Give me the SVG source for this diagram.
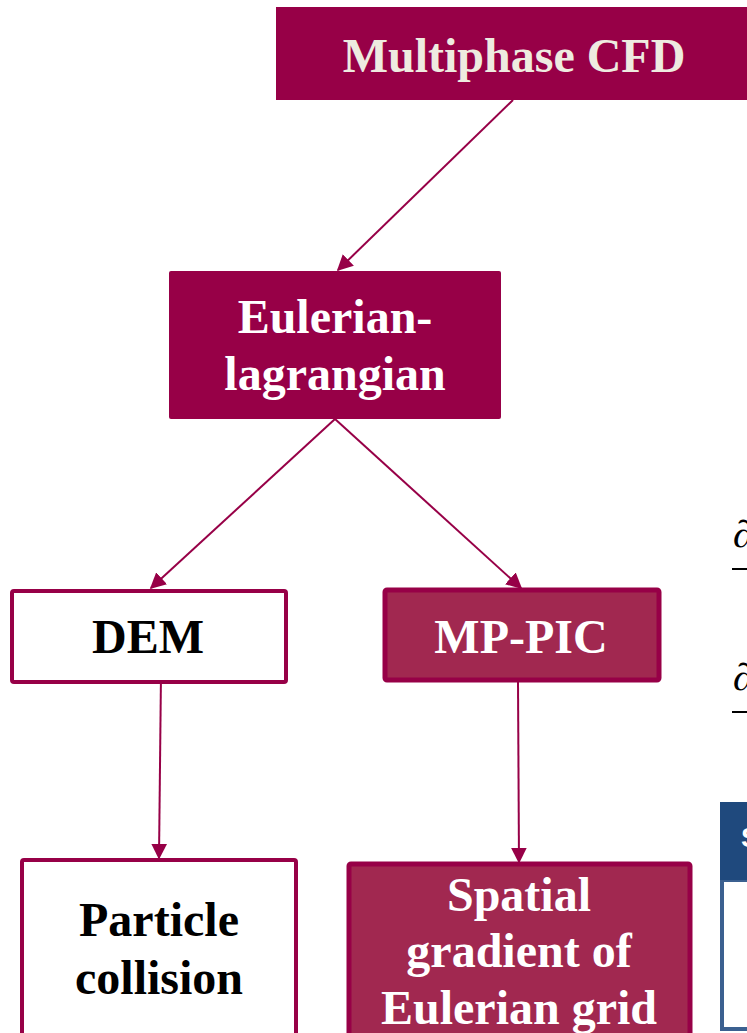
<svg xmlns="http://www.w3.org/2000/svg" width="747" height="1033" viewBox="0 0 747 1033">
<style>
.t{font-family:"Liberation Serif","Times New Roman",serif;font-weight:bold;text-anchor:middle;font-size:48px}
.w{fill:#ffffff}
.k{fill:#000000}
.c{stroke:#970047;stroke-width:2;fill:none}
.m{font-family:"Liberation Serif","Times New Roman",serif;font-style:italic;fill:#000}
</style>
<defs>
<marker id="ah2" viewBox="0 0 10 10" refX="9" refY="5" markerWidth="16" markerHeight="16" markerUnits="userSpaceOnUse" orient="auto">
<path d="M0,0 L10,5 L0,10 z" fill="#970047"/>
</marker>
</defs>
<rect width="747" height="1033" fill="#ffffff"/>
<g id="connectors">
<line class="c" x1="513" y1="100" x2="338" y2="270" marker-end="url(#ah2)"/>
<line class="c" x1="335" y1="419" x2="151" y2="588" marker-end="url(#ah2)"/>
<line class="c" x1="335" y1="419" x2="521" y2="588" marker-end="url(#ah2)"/>
<line class="c" x1="161" y1="673" x2="159" y2="858" marker-end="url(#ah2)"/>
<line class="c" x1="518" y1="682" x2="519" y2="862" marker-end="url(#ah2)"/>
</g>
<g id="multiphase">
<rect x="276" y="7" width="480" height="93" fill="#970047"/>
<text class="t" x="514" y="72" fill="#EEEBE0">Multiphase CFD</text>
</g>
<g id="eulerian">
<rect x="169" y="271" width="332" height="148" rx="2" fill="#970047"/>
<text class="t w" x="335" y="333">Eulerian-</text>
<text class="t w" x="335" y="390">lagrangian</text>
</g>
<g id="dem">
<rect x="12" y="591" width="274" height="91" rx="2" fill="#ffffff" stroke="#970047" stroke-width="4"/>
<text class="t k" x="148" y="653">DEM</text>
</g>
<g id="mppic">
<rect x="385" y="590" width="274" height="90" rx="2" fill="#A12850" stroke="#970047" stroke-width="5"/>
<text class="t w" x="521" y="653">MP-PIC</text>
</g>
<g id="particle">
<rect x="22" y="860" width="274" height="180" rx="2" fill="#ffffff" stroke="#970047" stroke-width="4"/>
<text class="t k" x="159" y="936">Particle</text>
<text class="t k" x="159" y="994">collision</text>
</g>
<g id="spatial">
<rect x="349" y="864" width="341" height="180" rx="2" fill="#A12850" stroke="#970047" stroke-width="5"/>
<text class="t w" x="519" y="911">Spatial</text>
<text class="t w" x="519" y="967">gradient of</text>
<text class="t w" x="519" y="1024">Eulerian grid</text>
</g>
<g id="partial-box">
<rect x="722" y="880" width="40" height="149" fill="#ffffff" stroke="#3B6090" stroke-width="4"/>
<rect x="720" y="802" width="40" height="78" fill="#1F497D"/>
<text x="741" y="847" font-family="Liberation Sans, Arial, sans-serif" font-weight="bold" font-size="28" fill="#ffffff">S</text>
</g>
<g id="equations">
<text class="m" x="733" y="547" font-size="38">∂</text>
<line x1="732" y1="569" x2="747" y2="569" stroke="#000" stroke-width="2"/>
<text class="m" x="733" y="690" font-size="38">∂</text>
<line x1="732" y1="712" x2="747" y2="712" stroke="#000" stroke-width="2"/>
</g>
</svg>
